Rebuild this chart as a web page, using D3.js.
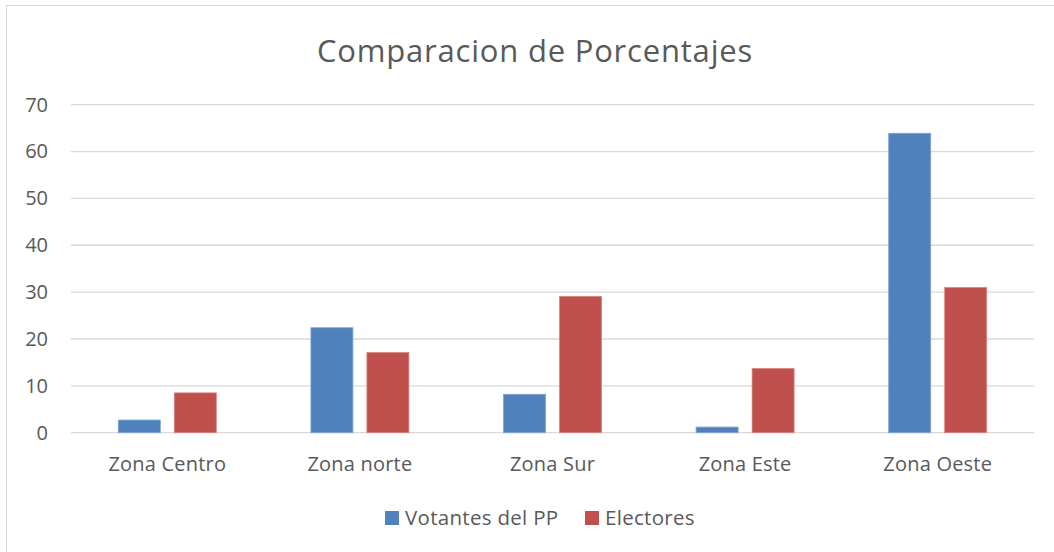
<!DOCTYPE html>
<html lang="es">
<head>
  <meta charset="UTF-8">
  <title>Comparacion de Porcentajes</title>
  <style>
    body { margin: 0; background: #fff; }
    text { font-family: "Open Sans", Lato, sans-serif; fill: #595959; }
  </style>
</head>
<body>
  <svg id="svg" width="1054" height="552"></svg>
  <script src="https://d3js.org/d3.v7.min.js"></script>
  <script>
    const zonas = ['Zona Centro', 'Zona norte', 'Zona Sur', 'Zona Este', 'Zona Oeste']
    const series = ['Votantes del PP', 'Electores']
    const votantes = [2.7, 22.4, 8.2, 1.2, 63.9]
    const electores = [8.5, 17.1, 29.1, 13.7, 31.0]
    const yTicks = [0, 10, 20, 30, 40, 50, 60, 70]
    const colors = ['#4f81bd', '#c0504d']
    const strokes = ['#7fa3d2', '#d9847f']
    const font = '"Open Sans", Lato, sans-serif'

    const data = zonas.map((z, i) => ({ zona: z, values: [votantes[i], electores[i]] }))

    const svg = d3.select('#svg')

    // chart border
    svg.append('rect')
      .attr('x', 6.5).attr('y', 5.5)
      .attr('width', 1060).attr('height', 560)
      .attr('fill', 'none')
      .attr('stroke', '#d9d9d9')

    svg.append('text')
      .attr('x', 535).attr('y', 62)
      .attr('text-anchor', 'middle')
      .attr('font-size', 31)
      .attr('letter-spacing', 0.8)
      .text('Comparacion de Porcentajes')

    const plotLeft = 71, plotRight = 1034, plotTop = 104.7, plotBottom = 432.7

    const x = d3.scaleBand().domain(zonas).range([plotLeft, plotRight])
    const xInner = d3.scaleBand().domain(series)
      .range([x.bandwidth() / 2 - 49, x.bandwidth() / 2 + 49])
      .paddingInner(0.25)
    const y = d3.scaleLinear().domain([0, 70]).range([plotBottom, plotTop])

    // grid
    svg.append('g')
      .selectAll('line')
      .data(yTicks)
      .join('line')
      .attr('x1', plotLeft).attr('x2', plotRight)
      .attr('y1', d => y(d)).attr('y2', d => y(d))
      .attr('stroke', '#d9d9d9')
      .attr('stroke-width', 1.3)

    const yAxis = svg.append('g')
      .attr('transform', `translate(${plotLeft},0)`)
      .call(d3.axisLeft(y).tickValues(yTicks).tickSize(0).tickPadding(23))
    yAxis.select('.domain').remove()
    yAxis.selectAll('text').attr('font-size', 20).style('font-family', font).attr('fill', '#595959')

    const xAxis = svg.append('g')
      .attr('transform', `translate(0,${plotBottom})`)
      .call(d3.axisBottom(x).tickSize(0).tickPadding(24))
    xAxis.select('.domain').remove()
    xAxis.selectAll('text').attr('font-size', 20).attr('letter-spacing', 0.2)
      .style('font-family', font).attr('fill', '#595959')

    // bars
    const groups = svg.append('g')
      .selectAll('g')
      .data(data)
      .join('g')
      .attr('transform', d => `translate(${x(d.zona)},0)`)

    groups.selectAll('rect')
      .data(d => d.values.map((v, i) => ({ key: series[i], v, i })))
      .join('rect')
      .attr('x', d => xInner(d.key))
      .attr('width', xInner.bandwidth())
      .attr('y', d => y(d.v))
      .attr('height', d => plotBottom - y(d.v))
      .attr('fill', d => colors[d.i])
      .attr('stroke', d => strokes[d.i])
      .attr('stroke-width', 0.8)

    // legend
    const legX = [385, 585]
    const legend = svg.append('g')
      .selectAll('g')
      .data(series)
      .join('g')
      .attr('transform', (d, i) => `translate(${legX[i]},511)`)
    legend.append('rect')
      .attr('width', 14).attr('height', 14)
      .attr('fill', (d, i) => colors[i])
    legend.append('text')
      .attr('x', 20).attr('y', 14)
      .attr('font-size', 20.5)
      .attr('letter-spacing', 0.3)
      .text(d => d)
  </script>
</body>
</html>
